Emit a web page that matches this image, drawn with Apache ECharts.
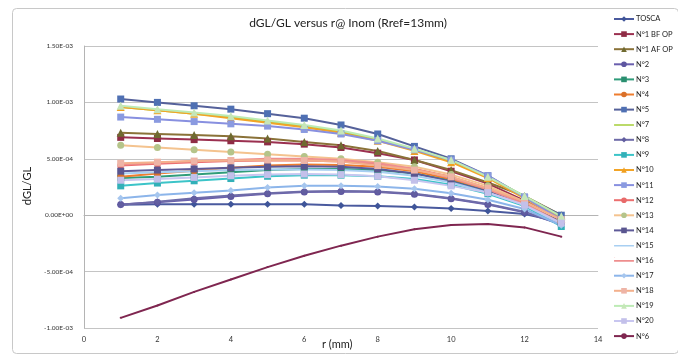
<!DOCTYPE html>
<html>
<head>
<meta charset="utf-8">
<script src="https://cdn.jsdelivr.net/npm/echarts@6/dist/echarts.min.js"></script>
<style>
  html, body { margin: 0; padding: 0; background: #fff; }
  #chart { width: 678px; height: 358px; }
</style>
</head>
<body>
<div id="chart"></div>
<script>
// Radius positions (mm)
const radii = [1, 2, 3, 4, 5, 6, 7, 8, 9, 10, 11, 12, 13];

// dGL/GL per magnet (values in units of 1e-4)
const tosca   = [0.93, 0.97, 0.97, 0.97, 0.97, 0.96, 0.87, 0.81, 0.73, 0.60, 0.37, 0.10, -0.60];
const n1BfOp  = [6.9, 6.8, 6.7, 6.6, 6.5, 6.3, 6.0, 5.5, 4.9, 3.9, 2.8, 1.3, -0.5];
const n1AfOp  = [7.3, 7.2, 7.1, 7.0, 6.8, 6.5, 6.2, 5.7, 4.9, 4.0, 2.9, 1.7, 0.0];
const n2      = [0.95, 1.15, 1.4, 1.65, 1.9, 2.05, 2.1, 2.05, 1.85, 1.45, 0.95, 0.25, -0.8];
const n3      = [3.3, 3.4, 3.6, 3.8, 4.0, 4.1, 4.1, 4.0, 3.7, 3.1, 2.2, 1.0, -0.7];
const n4      = [3.4, 3.7, 3.95, 4.2, 4.4, 4.5, 4.45, 4.3, 3.9, 3.2, 2.3, 1.1, -0.6];
const n5      = [10.3, 10.0, 9.7, 9.4, 9.0, 8.6, 8.0, 7.2, 6.1, 5.0, 3.5, 1.6, 0.0];
const n7      = [9.6, 9.3, 9.0, 8.7, 8.3, 7.9, 7.4, 6.7, 5.8, 4.8, 3.4, 1.7, -0.2];
const n8      = [0.93, 1.2, 1.5, 1.75, 1.95, 2.1, 2.15, 2.1, 1.9, 1.5, 1.0, 0.3, -0.8];
const n9      = [2.6, 2.85, 3.05, 3.25, 3.45, 3.55, 3.55, 3.45, 3.2, 2.7, 1.9, 0.8, -1.0];
const n10     = [9.6, 9.3, 9.0, 8.6, 8.2, 7.8, 7.3, 6.6, 5.7, 4.7, 3.3, 1.5, -0.3];
const n11     = [8.7, 8.5, 8.3, 8.1, 7.9, 7.6, 7.2, 6.6, 5.8, 4.9, 3.5, 1.6, -0.4];
const n12     = [4.4, 4.55, 4.7, 4.8, 4.85, 4.85, 4.75, 4.5, 4.1, 3.4, 2.4, 1.1, -0.6];
const n13     = [6.2, 6.0, 5.8, 5.6, 5.4, 5.2, 5.0, 4.7, 4.3, 3.6, 2.6, 1.2, -0.5];
const n14     = [3.9, 4.0, 4.1, 4.2, 4.3, 4.35, 4.3, 4.1, 3.7, 3.0, 2.1, 0.9, -0.6];
const n15     = [3.7, 3.8, 3.9, 4.0, 4.05, 4.05, 4.0, 3.85, 3.5, 2.9, 2.0, 0.9, -0.8];
const n16     = [4.5, 4.65, 4.8, 4.9, 5.0, 5.0, 4.9, 4.6, 4.1, 3.3, 2.3, 1.0, -0.7];
const n17     = [1.5, 1.8, 2.0, 2.2, 2.45, 2.6, 2.6, 2.55, 2.35, 1.95, 1.37, 0.55, -0.9];
const n18     = [4.6, 4.7, 4.8, 4.85, 4.9, 4.85, 4.75, 4.4, 4.0, 3.4, 2.4, 1.2, -0.4];
const n19     = [9.7, 9.4, 9.1, 8.8, 8.4, 8.0, 7.5, 6.8, 5.9, 4.9, 3.4, 1.7, -0.1];
const n20     = [3.1, 3.2, 3.35, 3.5, 3.6, 3.65, 3.6, 3.45, 3.1, 2.6, 2.0, 0.9, -0.7];
const n6      = [-9.1, -8.0, -6.8, -5.7, -4.6, -3.6, -2.7, -1.9, -1.25, -0.87, -0.78, -1.08, -1.9];

const UNIT = 1e-4;

// Axis ranges
const yMin = -1e-3, yMax = 1.5e-3, yStep = 5e-4;
const xMin = 0, xMax = 14, xStep = 2;

// Series definitions: name, values, line colour, marker, marker colour
const seriesDefs = [
  ['TOSCA',      tosca,  '#4a5a9e', 'diamond',  '#3f5599'],
  ['N°1 BF OP',  n1BfOp, '#9b3050', 'rect',     '#8e2c45'],
  ['N°1 AF OP',  n1AfOp, '#8a7238', 'triangle', '#6f6a30'],
  ['N°2',        n2,     '#6a5fae', 'circle',   '#5e56a0'],
  ['N°3',        n3,     '#2f9c7a', 'rect',     '#2a8f70'],
  ['N°4',        n4,     '#ee7d2e', 'circle',   '#d9702a'],
  ['N°5',        n5,     '#55619a', 'rect',     '#4f70b3'],
  ['N°7',        n7,     '#a5ce3a', 'none',     '#a5ce3a'],
  ['N°8',        n8,     '#6e6ba8', 'diamond',  '#625ea0'],
  ['N°9',        n9,     '#3cc4c8', 'rect',     '#32b0b8'],
  ['N°10',       n10,    '#f2a427', 'triangle', '#f0a020'],
  ['N°11',       n11,    '#8890e0', 'rect',     '#8a9ae0'],
  ['N°12',       n12,    '#ec6f6f', 'circle',   '#e86a6a'],
  ['N°13',       n13,    '#f4c38f', 'circle',   '#b5c48a'],
  ['N°14',       n14,    '#5e5a98', 'rect',     '#5a5690'],
  ['N°15',       n15,    '#a8cff2', 'none',     '#a8cff2'],
  ['N°16',       n16,    '#ee8e8e', 'none',     '#ee8e8e'],
  ['N°17',       n17,    '#8cb5ea', 'diamond',  '#a6c6ee'],
  ['N°18',       n18,    '#f3b08c', 'rect',     '#eeb4a6'],
  ['N°19',       n19,    '#bdebb5', 'triangle', '#c6e6b8'],
  ['N°20',       n20,    '#c8c6f0', 'rect',     '#c3c0ea'],
  ['N°6',        n6,     '#7f2650', 'none',     '#7f2650']
];

// Plain line swatch for legend entries without markers
const LINE_ICON = 'path://M0,0h1v0.05h-1z M0,3h20v1.6h-20z M0,7h1v0.05h-1z';

function sciLabel(v) {
  if (Math.abs(v) < 1e-12) return '0.00E+00';
  const s = v.toExponential(2).split('e');
  let e = parseInt(s[1], 10);
  const sign = e < 0 ? '-' : '+';
  e = Math.abs(e);
  return s[0] + 'E' + sign + (e < 10 ? '0' + e : '' + e);
}

const FONT = 'Lato, "Open Sans", sans-serif';

const chart = echarts.init(document.getElementById('chart'), null, { renderer: 'canvas' });

chart.setOption({
  backgroundColor: '#ffffff',
  animation: false,
  textStyle: { fontFamily: FONT },
  title: {
    text: 'dGL/GL versus r@ Inom (Rref=13mm)',
    left: 343, top: 12, textAlign: 'center',
    textStyle: { fontFamily: FONT, fontSize: 12, fontWeight: 'normal', color: '#222' }
  },
  graphic: [
    {
      type: 'rect', left: 10, top: 6, z: -10,
      shape: { width: 666, height: 345, r: 4 },
      style: { fill: 'none', stroke: '#c8c8c8', lineWidth: 1 }
    },
    {
      type: 'text', left: 322, top: 339,
      style: { text: 'r (mm)', font: '11px ' + FONT, fill: '#222' }
    },
    {
      type: 'text', x: 27, y: 186, rotation: Math.PI / 2,
      style: { text: 'dGL/GL', font: '11px ' + FONT, fill: '#222', align: 'center', verticalAlign: 'middle' }
    }
  ],
  legend: {
    orient: 'vertical',
    left: 608, top: 10,
    itemWidth: 20, itemHeight: 7, itemGap: 7.1,
    textStyle: { fontFamily: FONT, fontSize: 7.5, color: '#222', lineHeight: 7, padding: [0, 0, 0, -3] },
    data: seriesDefs.map(([name, , lineColor, marker]) =>
      (marker === 'none' && name !== 'N°6')
        ? { name: name, icon: LINE_ICON, itemStyle: { color: lineColor } }
        : { name: name })
  },
  grid: { left: 84, right: 80, top: 46, bottom: 30, containLabel: false },
  xAxis: {
    type: 'value', min: xMin, max: xMax, interval: xStep,
    axisLine: { onZero: true, lineStyle: { color: '#b4b4b4', width: 1 } },
    axisTick: { show: false },
    splitLine: { show: false },
    axisLabel: { fontFamily: FONT, fontSize: 7.5, color: '#333', margin: 8 }
  },
  yAxis: {
    type: 'value', min: yMin, max: yMax, interval: yStep,
    axisLine: { show: true, lineStyle: { color: '#b4b4b4', width: 1 } },
    axisTick: { show: false },
    splitLine: { show: true, lineStyle: { color: '#c4c4c4', width: 1.2 } },
    axisLabel: { fontFamily: FONT, fontSize: 6.5, color: '#333', margin: 11, formatter: sciLabel }
  },
  series: seriesDefs.map(([name, vals, lineColor, marker, markColor]) => ({
    name: name,
    type: 'line',
    data: radii.map((r, i) => [r, vals[i] * UNIT]),
    symbol: marker === 'none' ? (name === 'N°6' ? 'circle' : 'none') : marker,
    symbolSize: marker === 'none' ? 2 : (marker === 'triangle' ? 8 : 7),
    showSymbol: marker !== 'none' || name === 'N°6',
    lineStyle: { color: lineColor, width: 2 },
    itemStyle: { color: markColor },
    emphasis: { disabled: true }
  }))
});
</script>
</body>
</html>
